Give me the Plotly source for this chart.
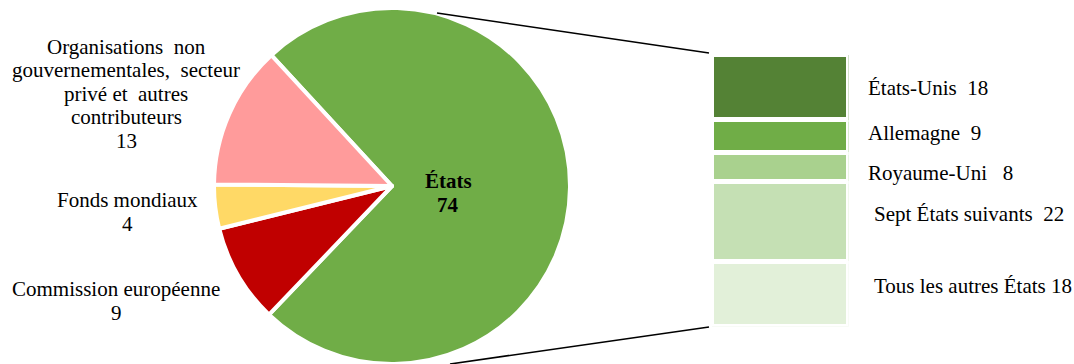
import plotly.graph_objects as go

W, H = 1074, 364

# Shares of contributions by source (pie)
pie_names = ["États", "Commission européenne", "Fonds mondiaux",
             "Organisations non gouvernementales, secteur privé et autres contributeurs"]
pie_values = [74, 9, 4, 13]
pie_colors = ["#70AD47", "#C00000", "#FFD966", "#FF9B9B"]
# Label lines as typeset next to each slice (value appended below)
pie_label_lines = [
    ["États"],
    ["Commission européenne"],
    ["Fonds\u00a0mondiaux"],
    ["Organisations\u00a0 non", "gouvernementales,\u00a0 secteur", "privé et\u00a0 autres", "contributeurs"],
]

# Breakdown of the "États" share (stacked bar, bottom to top)
bar_names = ["Tous les autres États", "Sept États suivants", "Royaume-Uni", "Allemagne", "États-Unis"]
bar_values = [18, 22, 8, 9, 18]
bar_colors = ["#E2F0D9", "#C5E0B4", "#A9D18E", "#70AD47", "#548235"]

FONT = "Liberation Serif"
FS = 21
LINE = 23.5

# --- layout geometry (pixels) ---
pie_cx, pie_r = 392, 178
pie_dom_x = [(pie_cx - pie_r) / W, (pie_cx + pie_r) / W]
pie_dom_y = [0, 2 * pie_r / H]

bar_left, bar_right, bar_top, bar_bot = 711.5, 848.5, 54.5, 326.5

pie_label_pos = [(448, 181), (116, 289), (127, 200), (126, 47)]  # first-line centres
pie_label_bold = [True, False, False, False]
bar_label_x = [872, 872, 866, 866, 866]
bar_label_yshift = [8, 7, -6, 3, -1]
bar_label_sep = ["\u00a0", "\u00a0\u00a0", "\u00a0\u00a0\u00a0", "\u00a0\u00a0", "\u00a0\u00a0"]

fig = go.Figure()

fig.add_trace(go.Pie(
    labels=pie_names, values=pie_values, sort=False, direction="clockwise",
    rotation=-42.7, textinfo="none", hoverinfo="label+value",
    marker=dict(colors=pie_colors, line=dict(color="white", width=4)),
    domain=dict(x=pie_dom_x, y=pie_dom_y), showlegend=False,
))

for name, val, col in zip(bar_names, bar_values, bar_colors):
    fig.add_trace(go.Bar(
        x=[0], y=[val], width=1, name=name, xaxis="x", yaxis="y",
        marker=dict(color=col, line=dict(color="white", width=5)),
        hoverinfo="name+y", showlegend=False,
    ))

annotations = []

def px_to_paper(x, y):
    return x / W, 1 - y / H

# Pie labels, one annotation per line for tighter leading
for lines, val, (lx, ly), bold in zip(pie_label_lines, pie_values, pie_label_pos, pie_label_bold):
    for i, line in enumerate(lines + [str(val)]):
        txt = f"<b>{line}</b>" if bold else line
        ax, ay = px_to_paper(lx, ly + i * LINE)
        annotations.append(dict(
            x=ax, y=ay, xref="paper", yref="paper", text=txt, showarrow=False,
            xanchor="center", yanchor="middle",
            font=dict(family=FONT, size=FS, color="black"),
        ))

# Bar labels at the centre of each stacked segment
base = 0
for name, val, sep, lx, ys in zip(bar_names, bar_values, bar_label_sep, bar_label_x, bar_label_yshift):
    annotations.append(dict(
        x=lx / W, y=base + val / 2, xref="paper", yref="y",
        text=f"{name}{sep}{val}", showarrow=False,
        xanchor="left", yanchor="middle", yshift=ys,
        font=dict(family=FONT, size=FS, color="black"),
    ))
    base += val

# Connector lines from the "États" slice to the breakdown bar
shapes = [
    dict(type="line", xref="paper", yref="paper",
         x0=437 / W, y0=1 - 13 / H, x1=709 / W, y1=1 - 53 / H,
         line=dict(color="black", width=1.6)),
    dict(type="line", xref="paper", yref="paper",
         x0=450 / W, y0=1 - 364 / H, x1=709 / W, y1=1 - 327 / H,
         line=dict(color="black", width=1.6)),
]

fig.update_layout(
    width=W, height=H, margin=dict(l=0, r=0, t=0, b=0),
    paper_bgcolor="white", plot_bgcolor="white",
    barmode="stack", showlegend=False,
    xaxis=dict(domain=[bar_left / W, bar_right / W], range=[-0.5, 0.5], visible=False, fixedrange=True),
    yaxis=dict(domain=[1 - bar_bot / H, 1 - bar_top / H], range=[0, sum(bar_values)], visible=False, fixedrange=True),
    annotations=annotations, shapes=shapes,
    font=dict(family=FONT, size=FS, color="black"),
)

fig.write_html("out.html")
